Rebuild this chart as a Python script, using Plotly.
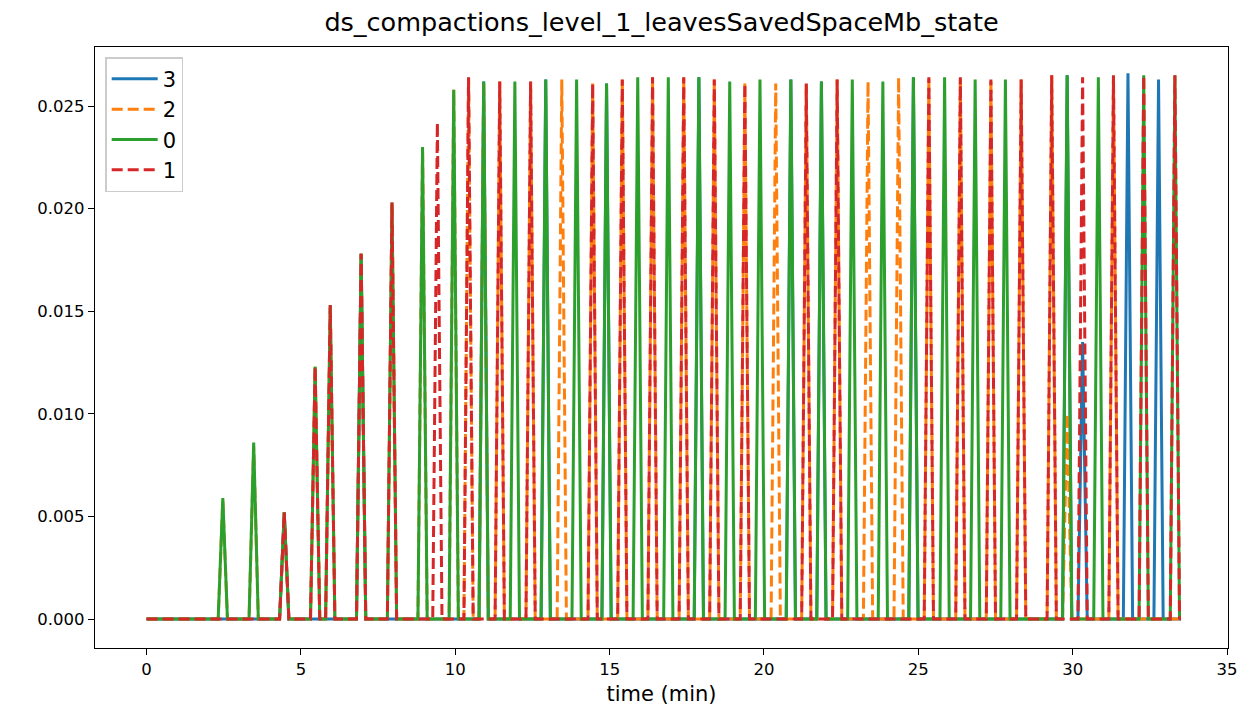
import plotly.graph_objects as go

# ---- data (spike times in minutes, spike heights in Mb) ----
times_s3 = [4.46, 6.95, 10.92, 12.93, 14.90, 17.89, 20.87, 21.86, 24.84, 29.82, 30.32, 31.79, 32.78]
peaks_s3 = [0.0052, 0.0178, 0.0262, 0.0263, 0.0261, 0.0264, 0.0263, 0.0262, 0.0264, 0.0265, 0.0135, 0.0266, 0.0263]

times_s2 = [2.47, 3.47, 4.46, 5.46, 5.95, 6.95, 7.95, 8.94, 9.95, 10.43, 10.92, 11.44, 12.44, 13.45,
            14.45, 15.41, 16.39, 17.40, 18.39, 19.38, 20.38, 21.37, 22.37, 23.37, 24.36, 25.34,
            26.36, 27.35, 28.33, 29.32, 29.82, 31.32]
peaks_s2 = [0.0058, 0.0084, 0.0052, 0.0123, 0.0153, 0.0178, 0.0203, 0.0230, 0.0258, 0.0264, 0.0262, 0.0262, 0.0262, 0.0263,
            0.0261, 0.0263, 0.0264, 0.0264, 0.0263, 0.0261, 0.0261, 0.0261, 0.0263, 0.0262, 0.0264, 0.0264,
            0.0264, 0.0263, 0.0263, 0.0265, 0.0100, 0.0265]

times_s0 = [2.47, 3.47, 4.46, 5.46, 5.95, 6.95, 7.95, 8.94, 9.95, 10.92, 11.93, 12.93, 13.93, 14.90,
            15.91, 16.90, 17.89, 18.89, 19.87, 20.87, 21.86, 22.86, 23.85, 24.84, 25.85, 26.84,
            27.82, 29.82, 30.83, 32.30, 33.31]
peaks_s0 = [0.0059, 0.0086, 0.0052, 0.0123, 0.0153, 0.0178, 0.0203, 0.0230, 0.0258, 0.0262, 0.0262, 0.0263, 0.0263, 0.0261,
            0.0264, 0.0264, 0.0264, 0.0262, 0.0263, 0.0263, 0.0262, 0.0263, 0.0262, 0.0264, 0.0264, 0.0263,
            0.0263, 0.0265, 0.0264, 0.0265, 0.0265]

times_s1 = [4.46, 5.46, 5.95, 6.95, 7.95, 9.42, 10.43, 11.44, 12.44, 14.45, 15.41, 16.39, 17.40, 18.39,
            19.38, 21.37, 22.37, 25.34, 26.36, 27.35, 28.33, 29.32, 30.32, 31.32, 32.30, 33.31]
peaks_s1 = [0.0052, 0.0123, 0.0153, 0.0178, 0.0203, 0.0242, 0.0264, 0.0262, 0.0262, 0.0261, 0.0263, 0.0264, 0.0264, 0.0263,
            0.0261, 0.0261, 0.0263, 0.0264, 0.0264, 0.0263, 0.0263, 0.0265, 0.0264, 0.0265, 0.0265, 0.0265]

series_names = ["3", "2", "0", "1"]
t_start = 0.0
t_end = 33.45
sample_half = 0.15  # spacing of sampled points around each spike

colors = {"3": "#1f77b4", "2": "#ff7f0e", "0": "#2ca02c", "1": "#d62728"}
dashes = {"3": "solid", "2": "11px,5px", "0": "solid", "1": "11px,5px"}
data = {"3": (times_s3, peaks_s3), "2": (times_s2, peaks_s2),
        "0": (times_s0, peaks_s0), "1": (times_s1, peaks_s1)}


def build(times, peaks):
    xs, ys = [t_start], [0.0]
    for t, v in zip(times, peaks):
        xs += [t - sample_half, t, t + sample_half]
        ys += [0.0, v, 0.0]
    xs.append(t_end)
    ys.append(0.0)
    return xs, ys


fig = go.Figure()
for name in series_names:
    xs, ys = build(*data[name])
    fig.add_trace(go.Scatter(
        x=xs, y=ys, mode="lines", name=name,
        line=dict(color=colors[name], width=3, dash=dashes[name]),
    ))

W, H = 1239, 719
font = "DejaVu Sans, sans-serif"
fig.update_layout(
    width=W, height=H,
    margin=dict(l=95, r=11, t=47, b=71, autoexpand=False),
    paper_bgcolor="white", plot_bgcolor="white",
    font=dict(family=font, size=16.5, color="black"),
    title=dict(text="ds_compactions_level_1_leavesSavedSpaceMb_state",
               x=0.5, xanchor="center", xref="paper",
               y=1 - 22 / H, yanchor="middle", yref="container",
               font=dict(size=25.5, family=font, color="black")),
    showlegend=True,
    legend=dict(x=0.009, y=0.983, xanchor="left", yanchor="top",
                bgcolor="rgba(255,255,255,0.8)", bordercolor="#cccccc", borderwidth=1.5,
                font=dict(size=21, family=font), itemwidth=46),
)
fig.update_xaxes(
    range=[-1.67, 35.03], tickmode="array", tickvals=[0, 5, 10, 15, 20, 25, 30, 35],
    ticks="outside", ticklen=6, tickwidth=1.3, tickcolor="black",
    showline=True, linecolor="black", linewidth=1.3, mirror=True,
    showgrid=False, zeroline=False, automargin=False,
    title=dict(text="time (min)", font=dict(size=21, family=font), standoff=8),
    tickfont=dict(size=16.5),
)
fig.update_yaxes(
    range=[-0.00141, 0.02788], tickmode="array",
    tickvals=[0, 0.005, 0.010, 0.015, 0.020, 0.025], tickformat=".3f",
    ticks="outside", ticklen=6, tickwidth=1.3, tickcolor="black",
    showline=True, linecolor="black", linewidth=1.3, mirror=True,
    showgrid=False, zeroline=False, automargin=False, tickfont=dict(size=16.5),
)

# remove the default page margin so the figure fills the window exactly
fig.write_html(
    "out.html",
    config={"displayModeBar": False},
    post_script="document.body.style.margin='0';document.body.style.overflow='hidden';",
)
